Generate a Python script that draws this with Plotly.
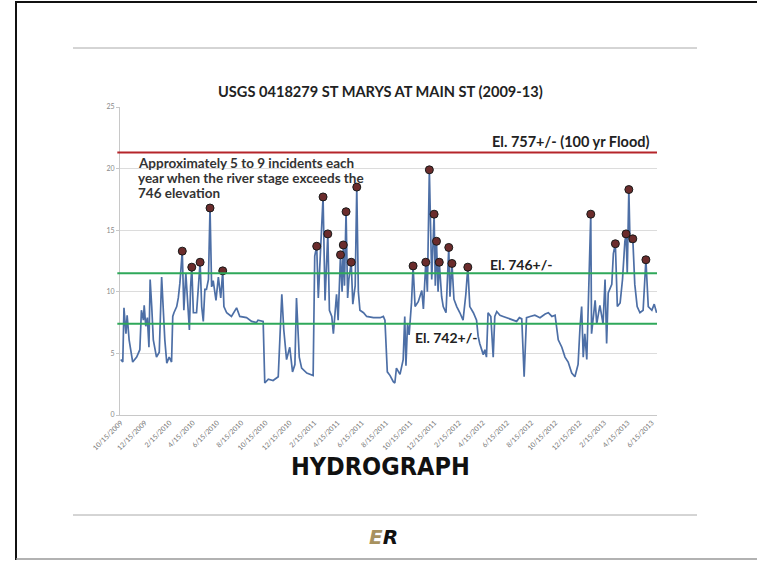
import pandas as pd
import plotly.graph_objects as go

# ---------------- data ----------------
stage_dates = [
    "2009-10-15", "2009-10-20", "2009-10-23", "2009-10-28", "2009-10-31", "2009-11-05", "2009-11-14",
    "2009-11-24", "2009-12-02", "2009-12-06", "2009-12-11", "2009-12-13", "2009-12-17", "2009-12-21",
    "2009-12-25", "2009-12-28", "2010-01-01", "2010-01-05", "2010-01-13", "2010-01-20", "2010-01-26",
    "2010-01-30", "2010-02-03", "2010-02-08", "2010-02-14", "2010-02-20", "2010-02-23", "2010-02-26",
    "2010-03-05", "2010-03-09", "2010-03-13", "2010-03-19", "2010-03-23", "2010-03-28", "2010-04-01",
    "2010-04-06", "2010-04-09", "2010-04-12", "2010-04-16", "2010-04-24", "2010-05-03", "2010-05-07",
    "2010-05-11", "2010-05-15", "2010-05-19", "2010-05-24", "2010-05-28", "2010-06-01", "2010-06-05",
    "2010-06-12", "2010-06-18", "2010-06-24", "2010-06-29", "2010-07-02", "2010-07-09", "2010-07-21",
    "2010-08-03", "2010-08-11", "2010-08-28", "2010-09-10", "2010-09-22", "2010-09-26", "2010-10-09",
    "2010-10-13", "2010-10-22", "2010-11-03", "2010-11-16", "2010-11-25", "2010-11-30", "2010-12-07",
    "2010-12-15", "2010-12-22", "2010-12-28", "2011-01-01", "2011-01-08", "2011-01-14", "2011-01-27",
    "2011-02-12", "2011-02-16", "2011-02-21", "2011-02-25", "2011-03-01", "2011-03-09", "2011-03-14",
    "2011-03-21", "2011-03-25", "2011-03-31", "2011-04-04", "2011-04-08", "2011-04-12", "2011-04-16",
    "2011-04-22", "2011-04-26", "2011-04-29", "2011-05-02", "2011-05-06", "2011-05-10", "2011-05-13",
    "2011-05-19", "2011-05-23", "2011-05-29", "2011-06-02", "2011-06-06", "2011-06-10", "2011-06-19",
    "2011-06-27", "2011-07-14", "2011-07-31", "2011-08-08", "2011-08-12", "2011-08-18", "2011-08-25",
    "2011-09-02", "2011-09-06", "2011-09-10", "2011-09-19", "2011-09-27", "2011-10-01", "2011-10-04",
    "2011-10-08", "2011-10-12", "2011-10-18", "2011-10-22", "2011-10-27", "2011-11-04", "2011-11-13",
    "2011-11-17", "2011-11-21", "2011-11-23", "2011-11-27", "2011-12-02", "2011-12-08", "2011-12-14",
    "2011-12-17", "2011-12-20", "2011-12-24", "2011-12-27", "2012-01-02", "2012-01-06", "2012-01-13",
    "2012-01-16", "2012-01-20", "2012-01-23", "2012-01-28", "2012-02-02", "2012-02-09", "2012-02-17",
    "2012-02-25", "2012-03-03", "2012-03-08", "2012-03-13", "2012-03-22", "2012-03-30", "2012-04-03",
    "2012-04-07", "2012-04-16", "2012-04-20", "2012-04-24", "2012-04-28", "2012-05-05", "2012-05-11",
    "2012-05-15", "2012-05-20", "2012-05-28", "2012-06-05", "2012-06-14", "2012-06-22", "2012-06-30",
    "2012-07-09", "2012-07-16", "2012-07-22", "2012-07-28", "2012-08-03", "2012-08-12", "2012-08-24",
    "2012-09-06", "2012-09-19", "2012-09-27", "2012-10-06", "2012-10-14", "2012-10-22", "2012-10-31",
    "2012-11-08", "2012-11-16", "2012-11-25", "2012-12-03", "2012-12-11", "2012-12-16", "2012-12-20",
    "2012-12-24", "2012-12-28", "2013-01-02", "2013-01-08", "2013-01-12", "2013-01-14", "2013-01-23",
    "2013-01-27", "2013-02-04", "2013-02-12", "2013-02-17", "2013-02-21", "2013-02-25", "2013-03-06",
    "2013-03-10", "2013-03-15", "2013-03-20", "2013-03-27", "2013-04-02", "2013-04-08", "2013-04-11",
    "2013-04-14", "2013-04-18", "2013-04-21", "2013-04-28", "2013-05-03", "2013-05-09", "2013-05-16",
    "2013-05-24", "2013-05-31", "2013-06-06", "2013-06-15", "2013-06-21", "2013-06-27",
]
stage_values = [
    4.5, 4.3, 8.7, 6.6, 8.1, 6.1, 4.3,
    4.7, 5.3, 8.5, 7.7, 8.9, 7.2, 7.9,
    5.5, 11.0, 8.8, 6.1, 4.7, 5.1, 11.2,
    8.0, 6.1, 4.2, 4.7, 4.3, 8.0, 8.3,
    8.8, 9.5, 10.7, 13.3, 8.5, 11.5, 9.3,
    6.9, 10.4, 12.0, 8.3, 8.3, 12.4, 8.8,
    7.6, 10.2, 10.2, 11.0, 16.8, 10.4, 10.9,
    9.3, 11.2, 9.5, 11.7, 8.8, 8.3, 8.0,
    8.7, 8.0, 7.9, 7.6, 7.5, 7.7, 7.6,
    2.6, 2.9, 2.8, 3.1, 9.8, 6.9, 4.5,
    5.5, 3.5, 4.1, 9.5, 4.7, 3.8, 3.4,
    3.2, 12.9, 13.7, 9.5, 12.0, 17.7, 9.3,
    14.7, 8.5, 8.0, 6.6, 8.5, 9.8, 7.7,
    13.0, 10.0, 13.8, 10.5, 16.5, 9.5, 11.0,
    12.4, 9.0, 10.5, 18.5, 10.0, 8.5, 8.3,
    8.0, 7.9, 7.9, 8.0, 7.7, 3.5, 3.2,
    2.7, 2.6, 3.8, 3.3, 4.5, 8.0, 4.0,
    7.4, 6.5, 9.1, 12.1, 8.8, 9.2, 10.1,
    8.6, 11.5, 12.4, 10.0, 19.9, 11.0, 16.3,
    10.5, 14.1, 10.0, 12.4, 9.6, 8.8, 8.3,
    10.5, 13.6, 9.6, 12.3, 9.4, 8.8, 8.3,
    7.7, 9.8, 12.0, 8.8, 8.3, 7.7, 6.4,
    5.8, 4.9, 5.3, 4.7, 8.3, 8.0, 4.7,
    8.0, 8.4, 8.1, 8.0, 7.9, 7.8, 7.7,
    7.6, 7.9, 7.8, 3.1, 7.9, 8.0, 8.1,
    7.9, 8.2, 8.3, 8.0, 8.1, 6.1, 5.5,
    4.7, 4.3, 3.4, 3.1, 4.1, 7.2, 8.8,
    4.7, 6.6, 4.5, 12.0, 16.3, 6.6, 9.3,
    7.4, 8.9, 7.4, 11.0, 5.8, 9.9, 10.6,
    13.1, 13.9, 8.8, 9.1, 11.0, 14.1, 14.7,
    11.5, 18.3, 14.0, 14.3, 10.6, 8.8, 8.3,
    8.5, 12.6, 8.8, 8.5, 9.0, 8.3,
]

peak_dates = [
    "2010-03-19", "2010-04-12", "2010-05-03", "2010-05-28", "2010-06-29",
    "2011-02-21", "2011-03-09", "2011-03-21", "2011-04-22", "2011-04-29", "2011-05-06",
    "2011-05-19", "2011-06-02",
    "2011-10-22", "2011-11-23", "2011-12-02", "2011-12-14", "2011-12-20", "2011-12-27",
    "2012-01-20", "2012-01-28", "2012-03-08",
    "2013-01-12", "2013-03-15", "2013-04-11", "2013-04-18", "2013-04-28", "2013-05-31",
]
peak_values = [
    13.3, 12.0, 12.4, 16.8, 11.7,
    13.7, 17.7, 14.7, 13.0, 13.8, 16.5,
    12.4, 18.5,
    12.1, 12.4, 19.9, 16.3, 14.1, 12.4,
    13.6, 12.3, 12.0,
    16.3, 13.9, 14.7, 18.3, 14.3, 12.6,
]

tick_labels = [
    "10/15/2009", "12/15/2009", "2/15/2010", "4/15/2010", "6/15/2010", "8/15/2010",
    "10/15/2010", "12/15/2010", "2/15/2011", "4/15/2011", "6/15/2011", "8/15/2011",
    "10/15/2011", "12/15/2011", "2/15/2012", "4/15/2012", "6/15/2012", "8/15/2012",
    "10/15/2012", "12/15/2012", "2/15/2013", "4/15/2013", "6/15/2013",
]

ref_levels = [21.3, 11.5, 7.4]
ref_labels = ["El. 757+/- (100 yr Flood)", "El. 746+/-", "El. 742+/-"]
ref_colors = ["#b5252a", "#2fa85a", "#2fa85a"]

title_text = "USGS 0418279 ST MARYS AT MAIN ST (2009-13)"
note_lines = [
    "Approximately 5 to 9 incidents each",
    "year when the river stage exceeds the",
    "746 elevation",
]

# ---------------- figure ----------------
W, H = 757, 561


def px(x):
    return x / W


def py(y):
    return 1 - y / H


fig = go.Figure()

fig.add_trace(go.Scatter(
    x=pd.to_datetime(stage_dates), y=stage_values, mode="lines",
    line=dict(color="#4d6fa6", width=1.7), hoverinfo="skip", showlegend=False,
))
fig.add_trace(go.Scatter(
    x=pd.to_datetime(peak_dates), y=peak_values, mode="markers",
    marker=dict(size=8, color="#6b2c2c", line=dict(color="#1a1a1a", width=1)),
    hoverinfo="skip", showlegend=False,
))

tick_vals = pd.to_datetime(tick_labels, format="%m/%d/%Y")

fig.update_layout(
    width=W, height=H, autosize=False,
    margin=dict(l=0, r=0, t=0, b=0, pad=0, autoexpand=False),
    paper_bgcolor="white", plot_bgcolor="white",
    xaxis=dict(
        domain=[px(120), px(657)],
        range=["2009-10-13", "2013-06-28"],
        tickmode="array", tickvals=tick_vals, ticktext=tick_labels,
        tickangle=-45, tickfont=dict(family="Lato", size=7, color="#777777"),
        showgrid=False, showline=True, linecolor="#c8c8c8", linewidth=1,
        ticks="", zeroline=False, automargin=False,
    ),
    yaxis=dict(
        domain=[py(415), py(107)],
        range=[0, 25], dtick=5,
        tickfont=dict(family="Lato", size=7, color="#888888"),
        showgrid=True, gridcolor="#dcdcdc", gridwidth=1,
        showline=True, linecolor="#c8c8c8", linewidth=1,
        ticks="outside", ticklen=3, tickcolor="#c8c8c8",
        zeroline=False, automargin=False,
    ),
)

# reference elevation lines
for lvl, col in zip(ref_levels, ref_colors):
    fig.add_shape(type="line", xref="x domain", yref="y", x0=-0.005, x1=1.0,
                  y0=lvl, y1=lvl, line=dict(color=col, width=2))

# labels for the reference lines
fig.add_annotation(x=px(651), xref="paper", y=ref_levels[0], yref="y", yshift=11,
                   text="<b>" + ref_labels[0] + "</b>", showarrow=False, xanchor="right",
                   font=dict(family="Lato", size=14.5, color="#222222"))
fig.add_annotation(x=px(488), xref="paper", y=ref_levels[1], yref="y", yshift=9,
                   text="<b>" + ref_labels[1] + "</b>", showarrow=False, xanchor="left",
                   font=dict(family="Lato", size=14, color="#222222"))
fig.add_annotation(x=px(413), xref="paper", y=ref_levels[2], yref="y", yshift=-14,
                   text="<b>" + ref_labels[2] + "</b>", showarrow=False, xanchor="left",
                   font=dict(family="Lato", size=14, color="#222222"))

# note block (one annotation per line for tight line spacing)
for i, line_txt in enumerate(note_lines):
    fig.add_annotation(x=px(136), y=py(163 + 15 * i), xref="paper", yref="paper",
                       text="<b>" + line_txt + "</b>", showarrow=False, align="left",
                       xanchor="left", yanchor="middle",
                       font=dict(family="Lato", size=13.5, color="#333333"))

# chart title
fig.add_annotation(x=px(380), y=py(91), xref="paper", yref="paper",
                   text="<b>" + title_text + "</b>", showarrow=False,
                   xanchor="center", yanchor="middle",
                   font=dict(family="Lato", size=14.6, color="#222222"))

# HYDROGRAPH caption
fig.add_annotation(x=px(380), y=py(466), xref="paper", yref="paper",
                   text="<b>HYDROGRAPH</b>", showarrow=False,
                   xanchor="center", yanchor="middle",
                   font=dict(family="DejaVu Sans Condensed, DejaVu Sans, sans-serif",
                             size=25, color="#111111"))

# logo
fig.add_annotation(x=px(383), y=py(537), xref="paper", yref="paper",
                   text="<b><i><span style='color:#a8925f'>E</span>R</i></b>", showarrow=False,
                   xanchor="center", yanchor="middle",
                   font=dict(family="DejaVu Sans", size=20, color="#111111"))

# slide frame and separators
fig.add_shape(type="line", xref="paper", yref="paper", x0=px(16), x1=1, y0=py(2), y1=py(2),
              line=dict(color="#111111", width=2))
fig.add_shape(type="line", xref="paper", yref="paper", x0=px(16), x1=px(16), y0=py(1), y1=py(560),
              line=dict(color="#111111", width=2))
fig.add_shape(type="line", xref="paper", yref="paper", x0=px(16), x1=1, y0=py(559), y1=py(559),
              line=dict(color="#999999", width=1.5))
fig.add_shape(type="line", xref="paper", yref="paper", x0=px(73), x1=px(697), y0=py(48), y1=py(48),
              line=dict(color="#aaaaaa", width=1))
fig.add_shape(type="line", xref="paper", yref="paper", x0=px(73), x1=px(697), y0=py(515), y1=py(515),
              line=dict(color="#aaaaaa", width=1))

fig.write_html("out.html", config={"displayModeBar": False},
               post_script="document.body.style.margin='0';")
